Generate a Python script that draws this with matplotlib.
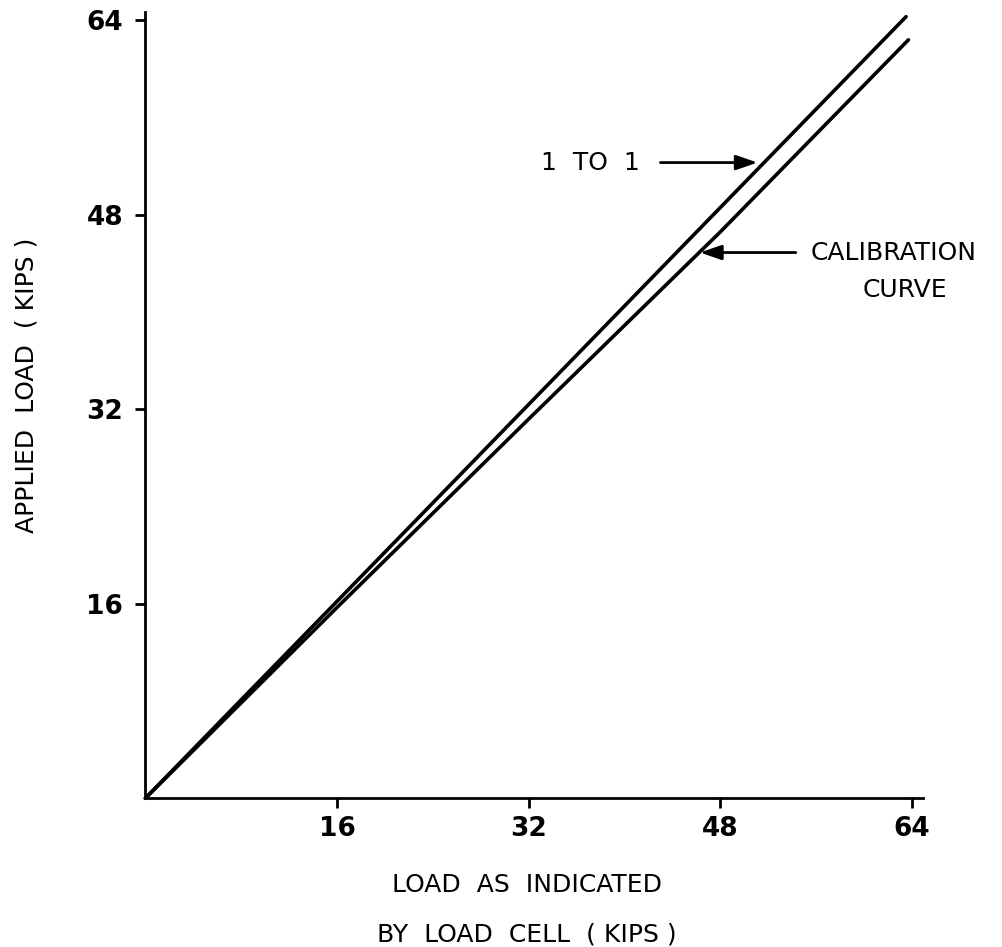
import matplotlib
matplotlib.use('Agg')
import matplotlib.pyplot as plt

# values (kips)
ticks = [16, 32, 48, 64]
one_to_one_x = [0, 63.5]
one_to_one_y = [0, 64.3]
calib_x = [0, 16, 32, 48, 63.7]
calib_y = [0, 15.7, 31.2, 46.6, 62.4]

plt.rcParams['font.family'] = ['DejaVu Sans']

fig = plt.figure(figsize=(10.02, 9.47), dpi=100)
ax = fig.add_axes([0.145, 0.157, 0.776, 0.8305])

ax.plot(one_to_one_x, one_to_one_y, color='black', lw=2.6, solid_capstyle='round', clip_on=False)
ax.plot(calib_x, calib_y, color='black', lw=2.6, solid_capstyle='round', clip_on=False)

ax.set_xlim(0, 64.9)
ax.set_ylim(0, 64.7)
ax.set_xticks(ticks)
ax.set_yticks(ticks)
ax.set_xticklabels([str(t) for t in ticks], fontsize=19, fontweight='bold')
ax.set_yticklabels([str(t) for t in ticks], fontsize=19, fontweight='bold')
ax.tick_params(axis='x', direction='out', length=7, width=2, pad=6)
ax.tick_params(axis='y', direction='out', length=7, width=2, pad=9)
for s in ['top', 'right']:
    ax.spines[s].set_visible(False)
for s in ['left', 'bottom']:
    ax.spines[s].set_linewidth(2)

fig.text(0.026, 0.593, 'APPLIED  LOAD  ( KIPS )', rotation=90, ha='center', va='center',
         fontsize=18)
fig.text(0.526, 0.0655, 'LOAD  AS  INDICATED', ha='center', va='center', fontsize=18)
fig.text(0.526, 0.0127, 'BY  LOAD  CELL  ( KIPS )', ha='center', va='center', fontsize=18)

# annotations
arrow = dict(arrowstyle='-|>,head_length=1.3,head_width=0.45', color='black',
             lw=2, shrinkA=0, shrinkB=0)
ax.text(33.0, 52.3, '1  TO  1', fontsize=18, ha='left', va='center')
ax.annotate('', xy=(51.1, 52.3), xytext=(43.0, 52.3), arrowprops=arrow)
ax.text(55.5, 44.9, 'CALIBRATION', fontsize=18, ha='left', va='center')
ax.annotate('', xy=(46.3, 44.9), xytext=(54.3, 44.9), arrowprops=arrow)
ax.text(63.4, 41.8, 'CURVE', fontsize=18, ha='center', va='center')

fig.savefig('out.png', dpi=100)
